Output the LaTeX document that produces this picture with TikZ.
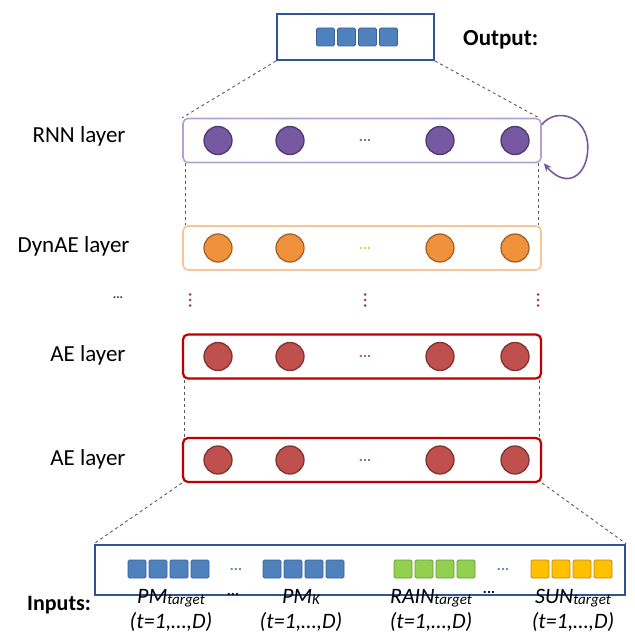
\documentclass[tikz,border=0pt]{standalone}
\usepackage{fontspec}
\setmainfont{Carlito}
\usetikzlibrary{positioning,arrows.meta,calc}

\definecolor{frameblue}{HTML}{2F5597}
\definecolor{sqblue}{HTML}{4F81BD}
\definecolor{sqblueline}{HTML}{3A6298}
\definecolor{sqgreen}{HTML}{92D050}
\definecolor{sqgreenline}{HTML}{6A9A3A}
\definecolor{sqgold}{HTML}{FFC000}
\definecolor{sqgoldline}{HTML}{C08A10}
\definecolor{rnnfill}{HTML}{7759A2}
\definecolor{rnnline}{HTML}{4E3A6E}
\definecolor{rnnbox}{HTML}{B3A2CF}
\definecolor{dynfill}{HTML}{F0923C}
\definecolor{dynline}{HTML}{A8602A}
\definecolor{dynbox}{HTML}{F9C596}
\definecolor{dyndots}{HTML}{F5C242}
\definecolor{aefill}{HTML}{C0504D}
\definecolor{aeline}{HTML}{7E3431}
\definecolor{aebox}{HTML}{C00000}
\definecolor{skipdot}{HTML}{9A4660}

\newcommand{\lowtext}[1]{{\fontsize{15}{15}\selectfont\raisebox{-1.5pt}{#1}}}

\tikzset{
  layer/.style={draw, rounded corners=5pt, minimum width=358pt, minimum height=44pt, line width=1.6pt},
  unit/.style={circle, draw, line width=1.3pt, minimum size=28pt, inner sep=0pt},
  sq/.style={draw, rounded corners=1.5pt, minimum size=18pt, inner sep=0pt, line width=0.9pt},
  guide/.style={dashed, black!65, line width=0.9pt},
  lbl/.style={font=\fontsize{23}{26}\selectfont, anchor=east},
  hdots/.style={font=\fontsize{15}{15}\selectfont\bfseries},
  inlbl/.style={font=\fontsize{22}{25}\selectfont\itshape, align=center, anchor=base},
}

\begin{document}
\begin{tikzpicture}[x=1pt, y=-1pt]
\useasboundingbox (0,0) rectangle (634,639);

% output vector
\node[draw=frameblue, line width=2pt, minimum width=157pt, minimum height=46pt] (out) at (355.5,37) {};
\foreach \i in {1,...,4}
  \node[sq, fill=sqblue, draw=sqblueline] (out-\i) at ($(out.center)+(-51+21*\i,0)$) {};
\node[font=\fontsize{23}{26}\selectfont\bfseries, anchor=base west, inner sep=0pt] (outlbl) at (463,46) {Output:};

% hidden layers
\node[layer, draw=rnnbox] (rnn) at (362,140.5) {};
\node[layer, draw=dynbox] (dyn) at (362,248) {};
\node[layer, draw=aebox, line width=2.2pt] (aeA) at (362,356.5) {};
\node[layer, draw=aebox, line width=2.2pt] (aeB) at (362,460) {};

\foreach \x [count=\i] in {218,290,440,515} {
  \node[unit, fill=rnnfill, draw=rnnline] (rnn-\i) at (\x,140.5) {};
  \node[unit, fill=dynfill, draw=dynline] (dyn-\i) at (\x,248) {};
  \node[unit, fill=aefill, draw=aeline] (aeA-\i) at (\x,356.5) {};
  \node[unit, fill=aefill, draw=aeline] (aeB-\i) at (\x,460) {};
}
\node[hdots, text=rnnfill] (rnn-dots) at ($(rnn-2)!0.5!(rnn-3)$) {...};
\node[hdots, text=dyndots] (dyn-dots) at ($(dyn-2)!0.5!(dyn-3)$) {...};
\node[hdots, text=aefill] (aeA-dots) at ($(aeA-2)!0.5!(aeA-3)$) {...};
\node[hdots, text=aefill] (aeB-dots) at ($(aeB-2)!0.5!(aeB-3)$) {...};

% skipped layers
\foreach \x in {190,365,538}
  \foreach \dy in {-5.5,0,5.5}
    \fill[skipdot] (\x,300+\dy) circle (1.5pt);

\node[lbl] (rnnlbl) at (129,136) {RNN layer};
\node[lbl] (dynlbl) at (133,246) {DynAE layer};
\node[hdots, font=\fontsize{13}{13}\selectfont\bfseries, text=black!80] (skiplbl) at (118,298) {...};
\node[lbl] (aeAlbl) at (129,355) {AE layer};
\node[lbl] (aeBlbl) at (129,459) {AE layer};

% recurrent connection
\coordinate (loop) at ($(rnn.east)+(46,7)$);
\draw[rnnfill, line width=1.6pt, -{Stealth[length=8pt,width=7pt]}]
  ([yshift=-7pt]rnn.north east) .. controls +(14,-18) and +(0,-32) .. (loop)
  .. controls +(0,28) and +(23,27) .. ([xshift=2pt]rnn.south east);

% input vector
\node[draw=frameblue, line width=2.4pt, minimum width=530pt, minimum height=50pt] (in) at (360,570) {};
\foreach \g/\x/\fc/\dc in {1/137/sqblue/sqblueline, 2/272/sqblue/sqblueline, 3/403/sqgreen/sqgreenline, 4/540/sqgold/sqgoldline}
  \foreach \i in {1,...,4}
    \node[sq, fill=\fc, draw=\dc] (in-\g-\i) at (\x+21*\i-21,569) {};
\node[hdots, text=sqblue] (in-dotsA) at ($(in-1-4)!0.5!(in-2-1)$) {...};
\node[hdots, text=sqblue] (in-dotsB) at ($(in-3-4)!0.5!(in-4-1)$) {...};

\node[font=\fontsize{22}{25}\selectfont\bfseries, anchor=base west, inner sep=0pt] (inlbl) at (27,610) {Inputs:};
\foreach \x/\name [count=\i] in {171/PM\lowtext{target}, 301/PM\lowtext{K}, 431/RAIN\lowtext{target}, 573/SUN\lowtext{target}}
  \node[inlbl, inner sep=0pt] (var-\i) at (\x,628) {\name\\(t=1,…,D)};
\node[hdots, text=black] (var-dotsA) at (233,594) {...};
\node[hdots, text=black] (var-dotsB) at (489,592) {...};

% guide lines between stages
\draw[guide] (out.south west) -- (rnn.north west);
\draw[guide] (out.south east) -- ([xshift=-3pt]rnn.north east);
\draw[guide] ([xshift=3pt]rnn.south west) -- ([xshift=3pt]dyn.north west);
\draw[guide] ([xshift=-3pt]rnn.south east) -- ([xshift=-3pt]dyn.north east);
\draw[guide] ([xshift=3pt]aeA.south west) -- ([xshift=3pt]aeB.north west);
\draw[guide] ([xshift=-3pt]aeA.south east) -- ([xshift=-3pt]aeB.north east);
\draw[guide] (aeB.south west) -- (in.north west);
\draw[guide] (aeB.south east) -- (in.north east);
\end{tikzpicture}
\end{document}
